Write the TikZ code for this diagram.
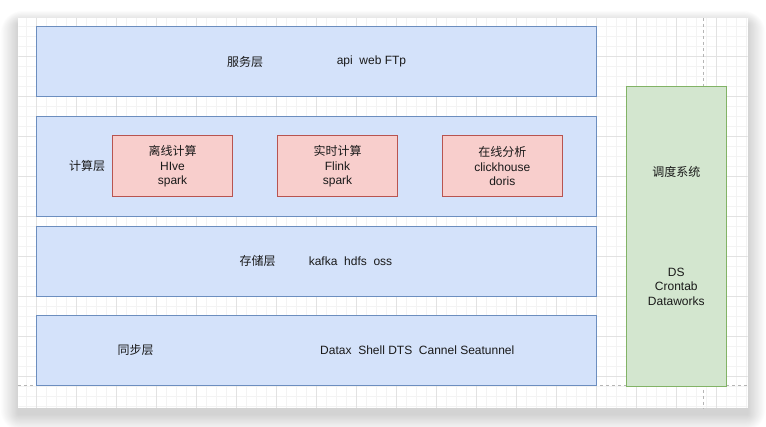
\documentclass[tikz,border=0pt]{standalone}
\usepackage{fontspec}
\setmainfont{Liberation Sans}
\newfontfamily\cjk{Noto Sans CJK SC}
\definecolor{bluefill}{HTML}{D4E2FA}
\definecolor{bluedraw}{HTML}{6C8EBF}
\definecolor{redfill}{HTML}{F8CECC}
\definecolor{reddraw}{HTML}{B85450}
\definecolor{greenfill}{HTML}{D3E6CF}
\definecolor{greendraw}{HTML}{82B366}
\definecolor{minorgrid}{HTML}{F3F3F3}
\definecolor{majorgrid}{HTML}{E2E2E2}
\definecolor{dashgray}{HTML}{B5B5B5}
\tikzset{
  txt/.style={font=\fontsize{12}{14.5}\selectfont, text=black!90, inner sep=0pt, align=center},
  layerbox/.style={draw=bluedraw, fill=bluefill, line width=1pt, minimum width=559.6pt, minimum height=70pt, inner sep=0pt},
  engbox/.style={draw=reddraw, fill=redfill, line width=1pt, minimum width=120.4pt, minimum height=60.7pt, inner sep=0pt},
  schedbox/.style={draw=greendraw, fill=greenfill, line width=1pt, minimum width=100pt, minimum height=299.6pt, inner sep=0pt},
  guide/.style={draw=dashgray, line width=0.8pt, dash pattern=on 3pt off 3pt},
}
\begin{document}
\begin{tikzpicture}[x=1pt,y=-1pt]
\useasboundingbox (0,0) rectangle (766,427);
% page shadow
\foreach \i in {1,...,22}{
  \fill[black,opacity=0.0065,rounded corners=\i pt] (18.3-0.8*\i,18-0.6*\i+6) rectangle (747.7+0.8*\i,408.3+0.8*\i+6);
}
\fill[white] (18.3,18) rectangle (747.7,408.3);
% grid
\begin{scope}
\clip (18.3,18) rectangle (747.7,408.3);
\foreach \k in {0,...,74}{
  \draw[minorgrid,line width=0.6pt] (6.7+\k*10,18) -- (6.7+\k*10,408.3);
}
\foreach \k in {0,...,40}{
  \draw[minorgrid,line width=0.6pt] (18.3,6.7+\k*10) -- (747.7,6.7+\k*10);
}
\foreach \k in {0,...,18}{
  \draw[majorgrid,line width=0.7pt] (36.7+\k*40,18) -- (36.7+\k*40,408.3);
}
\foreach \k in {0,...,10}{
  \draw[majorgrid,line width=0.7pt] (18.3,16.7+\k*40) -- (747.7,16.7+\k*40);
}
\end{scope}
% guide lines
\coordinate (gv1) at (703.5,18);
\coordinate (gv2) at (703.5,408.3);
\coordinate (gh1) at (18.3,385.3);
\coordinate (gh2) at (747.7,385.3);
\draw[guide] (gv1) -- (gv2);
\draw[guide] (gh1) -- (gh2);
% layers
\node[layerbox] (svc) at (316.5,61.7) {};
\node[layerbox, minimum height=99.6pt] (comp) at (316.5,166.5) {};
\node[layerbox] (stor) at (316.5,261.3) {};
\node[layerbox] (sync) at (316.5,350.3) {};
\node[schedbox] (sched) at (676.3,236.5) {};
% engines
\node[engbox] (offline) at (172.5,166.3) {};
\node[engbox] (realtime) at (337.5,166.3) {};
\node[engbox] (olap) at (502.3,166.3) {};
% labels
\node[txt] (svcname) at (245,61.5) {\cjk 服务层};
\node[txt] (svctools) at (371.5,61.5) {api\ \ web FTp};
\node[txt] (compname) at (87,166.3) {\cjk 计算层};
\node[txt] (offtxt) at (offline) {{\cjk 离线计算}\\HIve\\spark};
\node[txt] (rttxt) at (realtime) {{\cjk 实时计算}\\Flink\\spark};
\node[txt] (olaptxt) at (olap) {{\cjk 在线分析}\\clickhouse\\doris};
\node[txt] (storname) at (257.7,261) {\cjk 存储层};
\node[txt] (stortools) at (350.5,261) {kafka\ \ hdfs\ \ oss};
\node[txt] (syncname) at (135.7,350) {\cjk 同步层};
\node[txt] (synctools) at (417.3,350) {Datax\ \ Shell DTS\ \ Cannel Seatunnel};
\node[txt] (schedname) at (676.3,172) {\cjk 调度系统};
\node[txt] (schedtools) at (676.3,286.5) {DS\\Crontab\\Dataworks};
\end{tikzpicture}
\end{document}
